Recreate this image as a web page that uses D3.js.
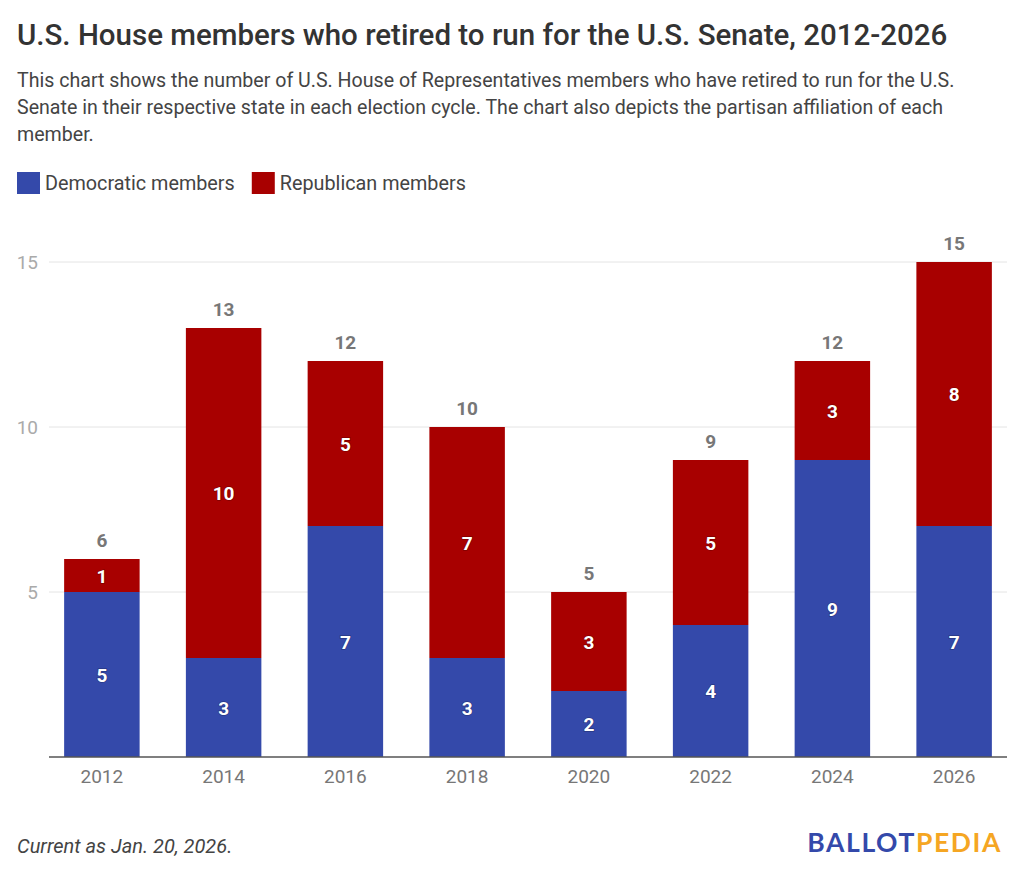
<!DOCTYPE html>
<html>
<head>
<meta charset="utf-8">
<script src="https://cdn.jsdelivr.net/npm/d3@7"></script>
<style>
  body { margin: 0; background: #fff; font-family: Roboto, "Noto Sans", sans-serif; }
  svg { display: block; }
</style>
</head>
<body>
<svg id="chart" width="1024" height="875"></svg>
<script>
const years = ["2012", "2014", "2016", "2018", "2020", "2022", "2024", "2026"];
const democratic = [5, 3, 7, 3, 2, 4, 9, 7];
const republican = [1, 10, 5, 7, 3, 5, 3, 8];
const yTicks = [0, 5, 10, 15];
const seriesNames = ["Democratic members", "Republican members"];
const seriesColors = ["#3449aa", "#a80000"];

const title = "U.S. House members who retired to run for the U.S. Senate, 2012-2026";
const subtitle = [
  "This chart shows the number of U.S. House of Representatives members who have retired to run for the U.S.",
  "Senate in their respective state in each election cycle. The chart also depicts the partisan affiliation of each",
  "member."
];
const footnote = "Current as Jan. 20, 2026.";

const svg = d3.select("#chart");

svg.append("text").attr("x", 17).attr("y", 45)
  .attr("font-size", 29.5).attr("font-weight", 500).attr("fill", "#333")
  .text(title);

svg.append("g").selectAll("text").data(subtitle).join("text")
  .attr("x", 17).attr("y", (d, i) => 87 + i * 27)
  .attr("font-size", 19.6).attr("fill", "#444")
  .text(d => d);

// legend
const leg = svg.append("g");
let lx = 17;
seriesNames.forEach((name, i) => {
  leg.append("rect").attr("x", lx).attr("y", 172).attr("width", 23).attr("height", 22)
    .attr("fill", seriesColors[i]);
  const t = leg.append("text").attr("x", lx + 28).attr("y", 190)
    .attr("font-size", 19.8).attr("fill", "#444").text(name);
  lx += 28 + t.node().getComputedTextLength() + 17;
});

const x = d3.scaleBand().domain(years).range([41, 1015]).paddingInner(0.38).paddingOuter(0.19);
const y = d3.scaleLinear().domain([0, 15]).range([757, 262]);

const plotLeft = 49, plotRight = 1007;

// gridlines
svg.append("g").selectAll("line").data(yTicks.filter(d => d > 0)).join("line")
  .attr("x1", plotLeft).attr("x2", plotRight)
  .attr("y1", d => y(d)).attr("y2", d => y(d))
  .attr("stroke", "#e4e4e4").attr("stroke-width", 1);

// y tick labels
svg.append("g").selectAll("text").data(yTicks.filter(d => d > 0)).join("text")
  .attr("x", 38).attr("y", d => y(d) + 7)
  .attr("text-anchor", "end").attr("font-size", 19).attr("fill", "#aaa")
  .text(d => d);

const data = years.map((yr, i) => ({ year: yr, Democratic: democratic[i], Republican: republican[i] }));
const stack = d3.stack().keys(["Democratic", "Republican"])(data);

const bars = svg.append("g");
stack.forEach((layer, li) => {
  bars.selectAll(null).data(layer).join("rect")
    .attr("x", d => x(d.data.year))
    .attr("width", x.bandwidth())
    .attr("y", d => y(d[1]))
    .attr("height", d => y(d[0]) - y(d[1]))
    .attr("fill", seriesColors[li]);
});

// inner labels
stack.forEach((layer) => {
  svg.append("g").selectAll("text").data(layer).join("text")
    .attr("x", d => x(d.data.year) + x.bandwidth() / 2)
    .attr("y", d => (y(d[0]) + y(d[1])) / 2 + 7)
    .attr("text-anchor", "middle").attr("font-size", 19).attr("font-weight", 700)
    .attr("fill", "#fff")
    .style("paint-order", "stroke").attr("stroke", "rgba(0,0,0,0.25)").attr("stroke-width", 1.5)
    .text(d => d[1] - d[0]);
});

// totals
svg.append("g").selectAll("text").data(data).join("text")
  .attr("x", d => x(d.year) + x.bandwidth() / 2)
  .attr("y", d => y(d.Democratic + d.Republican) - 12)
  .attr("text-anchor", "middle").attr("font-size", 19).attr("font-weight", 700)
  .attr("fill", "#777")
  .text(d => d.Democratic + d.Republican);

// baseline
svg.append("line").attr("x1", plotLeft).attr("x2", plotRight)
  .attr("y1", y(0)).attr("y2", y(0)).attr("stroke", "#555").attr("stroke-width", 1.5);

// x labels
const xAxis = svg.append("g").attr("transform", `translate(0,${y(0)})`)
  .call(d3.axisBottom(x).tickSize(0).tickPadding(10));
xAxis.select(".domain").remove();
xAxis.selectAll("text").attr("font-size", 19).attr("fill", "#777")
  .attr("font-family", "Roboto, sans-serif").attr("dy", "0.85em");

// footnote
svg.append("text").attr("x", 17).attr("y", 853)
  .attr("font-size", 20).attr("font-style", "italic").attr("fill", "#444")
  .text(footnote);

// logo
const logo = svg.append("text").attr("x", 1002).attr("y", 852).attr("text-anchor", "end")
  .attr("font-size", 26.5).attr("font-weight", 700).attr("letter-spacing", 1.6)
  .attr("font-family", "Lato, Roboto, sans-serif");
logo.append("tspan").attr("fill", "#3449aa").text("BALLOT");
logo.append("tspan").attr("fill", "#f5a623").text("PEDIA");
</script>
</body>
</html>
